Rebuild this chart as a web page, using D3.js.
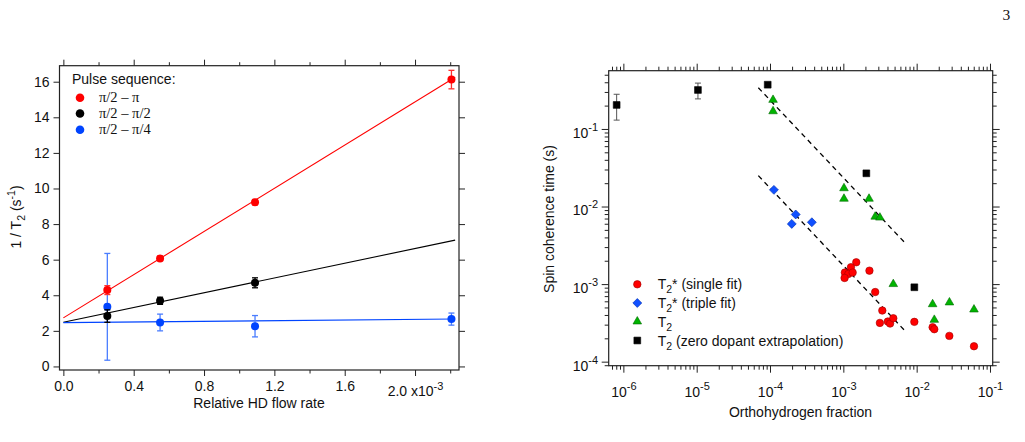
<!DOCTYPE html>
<html><head><meta charset="utf-8">
<script src="https://cdn.jsdelivr.net/npm/d3@7"></script>
<style>
body{margin:0;background:#fff;}
svg{display:block;font-family:"Liberation Sans",Arial,Helvetica,sans-serif;}
</style></head><body>
<svg id="c" width="1025" height="442"></svg>
<script>
// ---------- Left chart data (flow rate in units of 1e-3) ----------
const flowRates = [0.25, 0.55, 1.09, 2.207];
const redRate   = [4.29, 6.07, 9.23, 16.12];
const redErr    = [0.25, 0.12, 0.15, 0.52];
const blackFlow = [0.25, 0.55, 1.09];
const blackRate = [2.83, 3.69, 4.70];
const blackErr  = [0.35, 0.20, 0.28];
const blueRate  = [3.35, 2.47, 2.26, 2.66];
const blueErr   = [3.00, 0.47, 0.60, 0.34];
const fitX      = [0, 2.228];
const redFit    = [2.73, 16.25];
const blackFit  = [2.48, 7.10];
const blueFit   = [2.46, 2.67];
const xTicksL   = [0, 0.4, 0.8, 1.2, 1.6, 2.0];
const xMinorL   = [0.2, 0.6, 1.0, 1.4, 1.8, 2.2];
const yTicksL   = [0, 2, 4, 6, 8, 10, 12, 14, 16];
const legendTitleL = "Pulse sequence:";
const legendL   = ["π/2 – π", "π/2 – π/2", "π/2 – π/4"];

// ---------- Right chart data ----------
const singleFitX = [1.5e-3, 1.27e-3, 1.05e-3, 1.17e-3, 1.34e-3, 1.04e-3, 2.27e-3, 2.72e-3, 3.4e-3, 3.15e-3, 4.04e-3, 4.34e-3, 4.8e-3, 9.3e-3, 1.65e-2, 1.74e-2, 2.79e-2, 6.05e-2];
const singleFitY = [1.91e-3, 1.65e-3, 1.41e-3, 1.35e-3, 1.41e-3, 1.2e-3, 1.49e-3, 7.9e-4, 4.56e-4, 3.16e-4, 3.29e-4, 3.1e-4, 3.63e-4, 3.26e-4, 2.78e-4, 2.62e-4, 2.15e-4, 1.58e-4];
const tripleFitX = [1.13e-4, 2.24e-4, 1.98e-4, 3.72e-4];
const tripleFitY = [1.64e-2, 7.9e-3, 5.97e-3, 6.27e-3];
const t2X = [1.1e-4, 1.1e-4, 1.02e-3, 1.02e-3, 2.24e-3, 2.72e-3, 3.15e-3, 4.8e-3, 1.65e-2, 2.8e-2, 6.05e-2, 1.74e-2];
const t2Y = [0.237, 0.169, 0.0172, 0.0126, 0.0126, 0.0074, 0.0072, 1.0e-3, 5.5e-4, 5.8e-4, 4.7e-4, 3.46e-4];
const zeroX  = [8.1e-7, 1.04e-5, 9.3e-5, 2.06e-3, 9.3e-3];
const zeroY  = [0.204, 0.318, 0.372, 0.0268, 9.1e-4];
const zeroLo = [0.13, 0.244, null, null, null];
const zeroHi = [0.28, 0.39, null, null, null];
const fitXR     = [6.93e-5, 6.93e-3];
const upperFitY = [0.340, 0.0034];
const lowerFitY = [0.0250, 0.00025];
const legendR = [
  {type: "circle",   main: "T", sub: "2", rest: "* (single fit)"},
  {type: "diamond",  main: "T", sub: "2", rest: "* (triple fit)"},
  {type: "triangle", main: "T", sub: "2", rest: ""},
  {type: "square",   main: "T", sub: "2", rest: " (zero dopant extrapolation)"}
];

const svg = d3.select("#c");
const FS = "14px";

// ================= LEFT CHART =================
const xL = d3.scaleLinear().domain([-0.022, 2.25]).range([59.5, 459]);
const yL = d3.scaleLinear().domain([-0.2, 16.9]).range([370, 65.7]);
const L = svg.append("g");

function styleAxis(g){
  g.select(".domain").remove();
  g.selectAll(".tick line").attr("stroke", "#222").attr("stroke-width", 1);
  g.selectAll(".tick text").attr("font-size", FS).attr("fill", "#111")
    .attr("font-family", '"Liberation Sans",Arial,sans-serif');
}
L.append("g").attr("transform", "translate(0,370)")
  .call(d3.axisBottom(xL).tickValues(xTicksL).tickSize(6).tickPadding(5.5)
    .tickFormat(d => d3.format(".1f")(d)))
  .call(styleAxis)
  .call(g => g.selectAll(".tick text").filter(d => d === 2.0).each(function(){
    const t = d3.select(this);
    t.text(null).attr("dy", "1.07em");
    t.append("tspan").text("2.0 x10");
    t.append("tspan").attr("dy", "-6").attr("font-size", "11px").text("-3");
  }));
L.append("g").attr("transform", "translate(0,370)")
  .call(d3.axisBottom(xL).tickValues(xMinorL).tickSize(3.5).tickFormat("")).call(styleAxis);
L.append("g").attr("transform", "translate(0,65.7)")
  .call(d3.axisTop(xL).tickValues(xTicksL).tickSize(6).tickFormat("")).call(styleAxis);
L.append("g").attr("transform", "translate(0,65.7)")
  .call(d3.axisTop(xL).tickValues(xMinorL).tickSize(3.5).tickFormat("")).call(styleAxis);
L.append("g").attr("transform", "translate(59.5,0)")
  .call(d3.axisLeft(yL).tickValues(yTicksL).tickSize(6).tickPadding(4)).call(styleAxis);
L.append("g").attr("transform", "translate(459,0)")
  .call(d3.axisRight(yL).tickValues(yTicksL).tickSize(6).tickFormat("")).call(styleAxis);
L.append("rect").attr("x", 59.5).attr("y", 65.7).attr("width", 459 - 59.5).attr("height", 370 - 65.7)
  .attr("fill", "none").attr("stroke", "#222").attr("stroke-width", 1.2);

// fit lines
const lineL = d3.line().x(d => xL(d[0])).y(d => yL(d[1]));
[[redFit, "#ff0000"], [blackFit, "#000"], [blueFit, "#0044ff"]].forEach(([f, c]) => {
  L.append("path").attr("d", lineL(fitX.map((x, i) => [x, f[i]])))
    .attr("fill", "none").attr("stroke", c).attr("stroke-width", 1.1);
});

function errSeries(g, xs, ys, es, color, ecolor, xs_scale, ys_scale){
  xs.forEach((x, i) => {
    const cx = xs_scale(x), y1 = ys_scale(ys[i] + es[i]), y2 = ys_scale(ys[i] - es[i]);
    g.append("line").attr("x1", cx).attr("x2", cx).attr("y1", y1).attr("y2", y2).attr("stroke", ecolor).attr("stroke-width", 1.3);
    [y1, y2].forEach(yy => g.append("line").attr("x1", cx - 3).attr("x2", cx + 3).attr("y1", yy).attr("y2", yy).attr("stroke", ecolor).attr("stroke-width", 1.3));
  });
  xs.forEach((x, i) => {
    g.append("circle").attr("cx", xs_scale(x)).attr("cy", ys_scale(ys[i])).attr("r", 4).attr("fill", color);
  });
}
errSeries(L, flowRates, blueRate, blueErr, "#0044ff", "#4a7dff", xL, yL);
errSeries(L, blackFlow, blackRate, blackErr, "#000", "#000", xL, yL);
errSeries(L, flowRates, redRate, redErr, "#ff0000", "#ff3030", xL, yL);

// legend
L.append("text").attr("x", 72).attr("y", 83.5).attr("font-size", FS).attr("fill", "#111").text(legendTitleL);
const legCols = ["#ff0000", "#000", "#0044ff"];
const legY = [97.7, 113.5, 129.8];
legendL.forEach((t, i) => {
  L.append("circle").attr("cx", 80).attr("cy", legY[i]).attr("r", 4.3).attr("fill", legCols[i]);
  L.append("text").attr("x", 99).attr("y", legY[i] + 4.3).attr("font-size", "14.5px")
    .attr("font-family", '"Liberation Serif","Times New Roman",serif').attr("fill", "#111").text(t);
});

// axis titles
L.append("text").attr("x", 259).attr("y", 408).attr("text-anchor", "middle").attr("font-size", FS).attr("fill", "#111")
  .text("Relative HD flow rate");
const yt = L.append("text").attr("transform", "translate(21,217) rotate(-90)").attr("text-anchor", "middle")
  .attr("font-size", FS).attr("fill", "#111");
yt.append("tspan").text("1 / T");
yt.append("tspan").attr("dy", 4).attr("font-size", "10.5px").text("2");
yt.append("tspan").attr("dy", -4).text(" (s");
yt.append("tspan").attr("dy", -6).attr("font-size", "10.5px").text("-1");
yt.append("tspan").attr("dy", 6).text(")");

// ================= RIGHT CHART =================
const xR = d3.scaleLog().domain([Math.pow(10, -6.2), Math.pow(10, -0.963)]).range([608.7, 992.7]);
const yR = d3.scaleLog().domain([Math.pow(10, -4.052), Math.pow(10, -0.249)]).range([365.7, 70.7]);
function logTicks(scale){
  const [a, b] = scale.domain(), maj = [], min = [];
  for (let d = -8; d <= 1; d++) for (let m = 1; m <= 9; m++) {
    const v = m * Math.pow(10, d);
    if (v >= a * 0.9999 && v <= b * 1.0001) (m === 1 ? maj : min).push(v);
  }
  return [maj, min];
}
const [xMajR, xMinR] = logTicks(xR);
const [yMajR, yMinR] = logTicks(yR);
const R = svg.append("g");
function supLabels(g, dyMain){
  g.selectAll(".tick text").each(function(d){
    const t = d3.select(this);
    const e = Math.round(Math.log10(d));
    t.text(null);
    if (dyMain) t.attr("dy", dyMain);
    t.append("tspan").text("10");
    t.append("tspan").attr("dy", "-7").attr("font-size", "11px").text(String(e));
  });
}
R.append("g").attr("transform", "translate(0,365.7)")
  .call(d3.axisBottom(xR).tickValues(xMajR).tickSize(7).tickPadding(14)).call(styleAxis).call(g => supLabels(g));
R.append("g").attr("transform", "translate(0,365.7)")
  .call(d3.axisBottom(xR).tickValues(xMinR).tickSize(4).tickFormat("")).call(styleAxis);
R.append("g").attr("transform", "translate(0,70.7)")
  .call(d3.axisTop(xR).tickValues(xMajR).tickSize(7).tickFormat("")).call(styleAxis);
R.append("g").attr("transform", "translate(0,70.7)")
  .call(d3.axisTop(xR).tickValues(xMinR).tickSize(4).tickFormat("")).call(styleAxis);
R.append("g").attr("transform", "translate(608.7,0)")
  .call(d3.axisLeft(yR).tickValues(yMajR).tickSize(7).tickPadding(3.7)).call(styleAxis).call(g => supLabels(g, "0.6em"));
R.append("g").attr("transform", "translate(608.7,0)")
  .call(d3.axisLeft(yR).tickValues(yMinR).tickSize(4).tickFormat("")).call(styleAxis);
R.append("g").attr("transform", "translate(992.7,0)")
  .call(d3.axisRight(yR).tickValues(yMajR).tickSize(7).tickFormat("")).call(styleAxis);
R.append("g").attr("transform", "translate(992.7,0)")
  .call(d3.axisRight(yR).tickValues(yMinR).tickSize(4).tickFormat("")).call(styleAxis);
R.append("rect").attr("x", 608.7).attr("y", 70.7).attr("width", 992.7 - 608.7).attr("height", 365.7 - 70.7)
  .attr("fill", "none").attr("stroke", "#222").attr("stroke-width", 1.2);

// dashed fit lines
const lineR = d3.line().x(d => xR(d[0])).y(d => yR(d[1]));
[upperFitY, lowerFitY].forEach(f => {
  R.append("path").attr("d", lineR(fitXR.map((x, i) => [x, f[i]])))
    .attr("fill", "none").attr("stroke", "#000").attr("stroke-width", 1.3).attr("stroke-dasharray", "5,4");
});

const markers = {
  circle:   {sym: d3.symbolCircle,   size: 44, fill: "#ff0000", stroke: "#a00000", rot: 0},
  diamond:  {sym: d3.symbolSquare,   size: 40, fill: "#1050ff", stroke: "#0030b0", rot: 45},
  triangle: {sym: d3.symbolTriangle, size: 32, fill: "#00b400", stroke: "#006a00", rot: 0},
  square:   {sym: d3.symbolSquare,   size: 46, fill: "#000",    stroke: "#000",    rot: 0}
};
function drawMarker(g, type, x, y){
  const m = markers[type];
  g.append("path").attr("d", d3.symbol(m.sym, m.size)())
    .attr("transform", `translate(${x},${y}) rotate(${m.rot})`)
    .attr("fill", m.fill).attr("stroke", m.stroke).attr("stroke-width", 0.6);
}
// error bars for zero-dopant squares
zeroX.forEach((x, i) => {
  if (zeroLo[i] == null) return;
  const cx = xR(x), y1 = yR(zeroHi[i]), y2 = yR(zeroLo[i]);
  R.append("line").attr("x1", cx).attr("x2", cx).attr("y1", y1).attr("y2", y2).attr("stroke", "#555").attr("stroke-width", 1);
  [y1, y2].forEach(yy => R.append("line").attr("x1", cx - 3).attr("x2", cx + 3).attr("y1", yy).attr("y2", yy).attr("stroke", "#555").attr("stroke-width", 1));
});
tripleFitX.forEach((x, i) => drawMarker(R, "diamond", xR(x), yR(tripleFitY[i])));
t2X.forEach((x, i) => drawMarker(R, "triangle", xR(x), yR(t2Y[i])));
singleFitX.forEach((x, i) => drawMarker(R, "circle", xR(x), yR(singleFitY[i])));
zeroX.forEach((x, i) => drawMarker(R, "square", xR(x), yR(zeroY[i])));

// legend
const legRY = [284.3, 303, 321.5, 340.5];
legendR.forEach((d, i) => {
  drawMarker(R, d.type, 637.3, legRY[i]);
  const t = R.append("text").attr("x", 657.7).attr("y", legRY[i] + 5).attr("font-size", FS).attr("fill", "#111");
  t.append("tspan").text(d.main);
  t.append("tspan").attr("dy", 4).attr("font-size", "10.5px").text(d.sub);
  t.append("tspan").attr("dy", -4).text(d.rest);
});

// axis titles
R.append("text").attr("x", 800.5).attr("y", 416.5).attr("text-anchor", "middle").attr("font-size", FS).attr("fill", "#111")
  .text("Orthohydrogen fraction");
R.append("text").attr("transform", "translate(554,219) rotate(-90)").attr("text-anchor", "middle")
  .attr("font-size", FS).attr("fill", "#111").text("Spin coherence time (s)");

// page number
svg.append("text").attr("x", 1002.5).attr("y", 19.5).attr("font-size", "15.5px")
  .attr("font-family", '"Liberation Serif","Times New Roman",serif').attr("fill", "#111").text("3");
</script>
</body></html>
